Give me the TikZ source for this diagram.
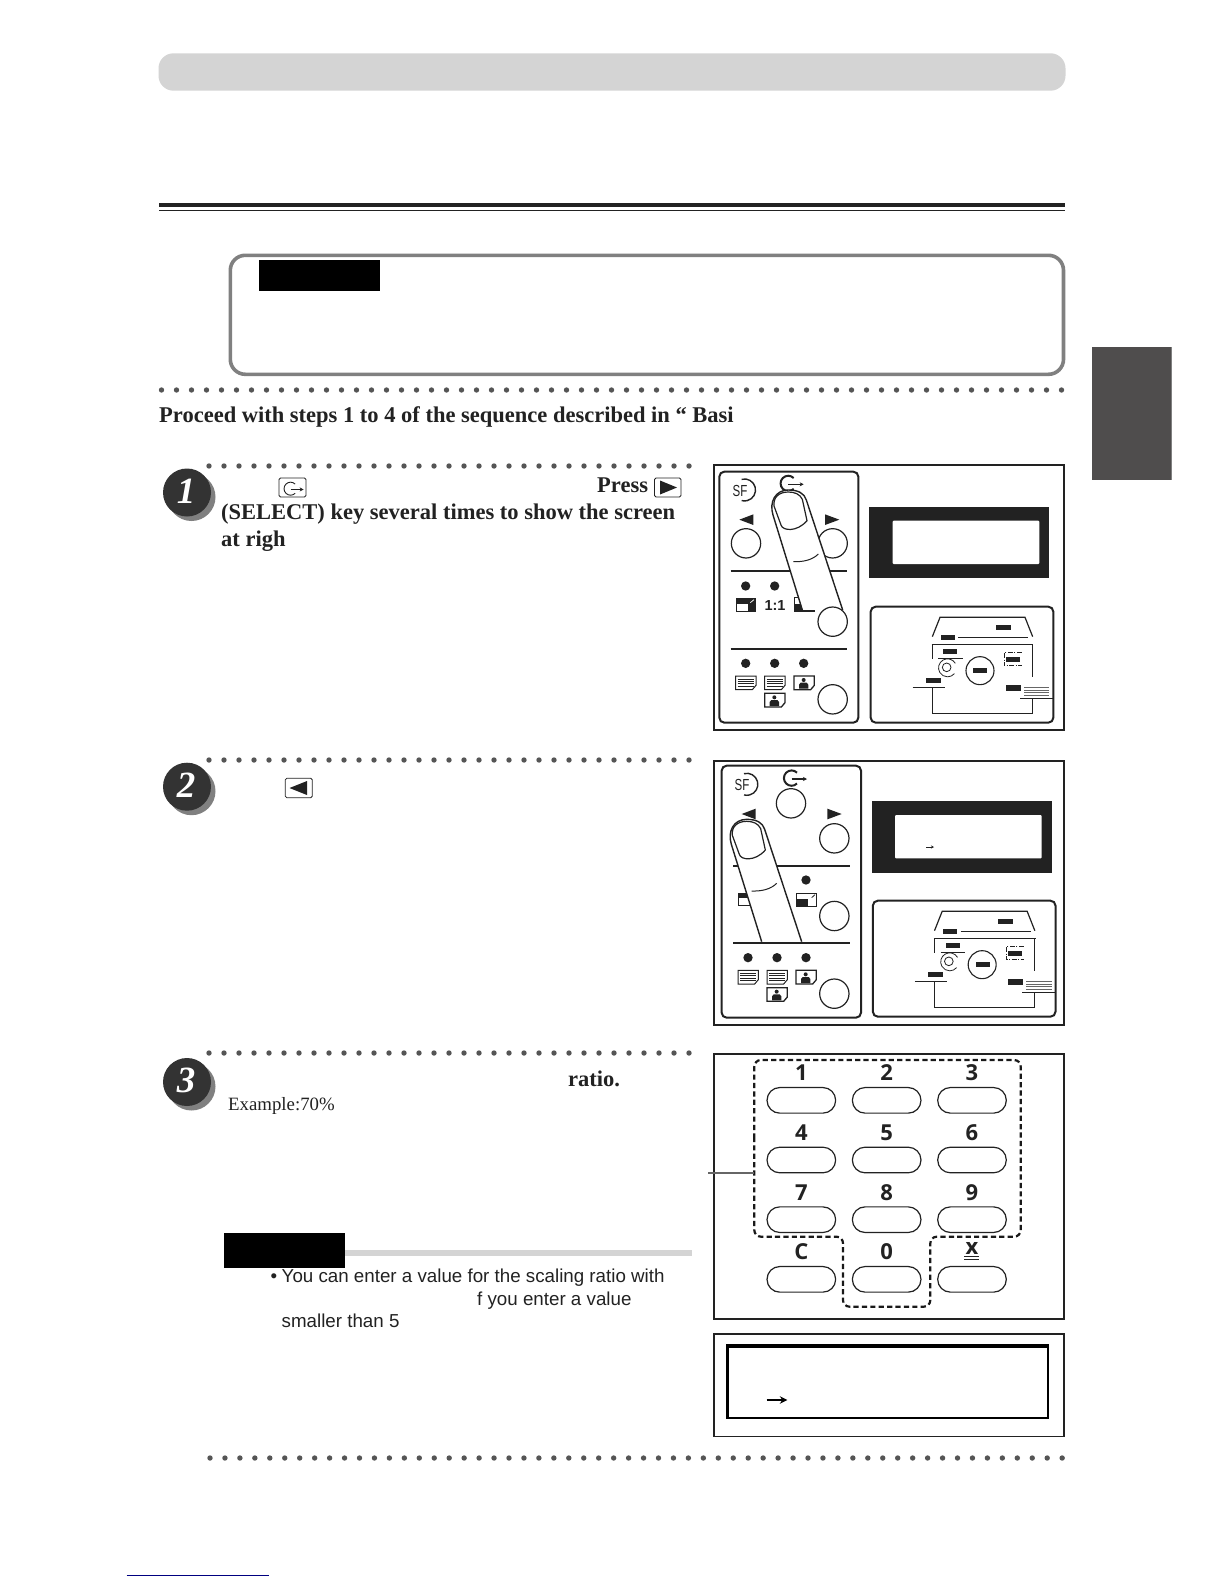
\documentclass[tikz,border=0pt]{standalone}
\usepackage{fontspec}
\setmainfont{Liberation Serif}
\newfontfamily\sansf{Liberation Sans}
\newfontfamily\keyf{Open Sans}
\usetikzlibrary{arrows.meta}
\definecolor{ink}{HTML}{222222}
\definecolor{barcol}{HTML}{D4D4D4}
\definecolor{dotcol}{HTML}{555555}
\definecolor{tabcol}{HTML}{4F4D4D}
\definecolor{boxcol}{HTML}{808080}
\definecolor{badgecol}{HTML}{333333}
\tikzset{
  txt/.style={inner sep=0pt,anchor=base west,text=ink},
  bodybold/.style={txt,font=\fontsize{22.5}{26}\selectfont\bfseries},
  note/.style={txt,font=\fontsize{18.75}{22}\selectfont\sansf},
  badgenum/.style={inner sep=0pt,text=white,font=\fontsize{37}{40}\selectfont\bfseries\itshape},
  keybtn/.style={draw=ink,line width=1.2pt,fill=white,minimum width=68.6pt,minimum height=25.6pt,rounded corners=12.7pt,inner sep=0pt},
  keydigit/.style={inner sep=0pt,anchor=base,text=ink,font=\fontsize{22}{24}\selectfont\keyf\bfseries},
  frameline/.style={draw=ink,line width=1.5pt},
  panelline/.style={draw=ink,line width=2pt,rounded corners=5pt},
  pbtn/.style={draw=ink,line width=1.2pt,fill=white},
  keybox/.style={draw=ink,line width=.8pt,rounded corners=1.5pt,fill=white},
  sflabel/.style={inner sep=0pt,text=ink,xscale=.72,font=\fontsize{16}{16}\selectfont\sansf},
}
\newcommand{\reticon}[5]{% x, y, scale, arc width, arrow width
  \begin{scope}[shift={(#1,#2)},scale=#3]
    \draw[ink,line width=#4] (16,-16) arc[start angle=-45,end angle=-315,radius=23];
    \draw[ink,line width=#5,-{Stealth[length=4pt,width=4pt]}] (0,3) -- (46,3);
  \end{scope}}
\newcommand{\docicon}[2]{%
  \begin{scope}[shift={(#1,#2)}]
    \draw[ink,line width=1pt,fill=white] (0,0) -- (61,0) -- (61,28) -- (50,41) -- (0,41) -- cycle;
    \foreach \yy in {9,16,23,30}{\draw[ink,line width=.5pt] (6,\yy) -- (55,\yy);}
  \end{scope}}
\newcommand{\personicon}[2]{%
  \begin{scope}[shift={(#1,#2)}]
    \draw[ink,line width=1.3pt,fill=white] (0,0) -- (61,0) -- (61,28) -- (50,41) -- (0,41) -- cycle;
    \fill[ink] (29,12) circle[radius=6];
    \fill[ink] (15,38) -- (15,26) -- (20,20) -- (38,20) -- (43,26) -- (43,38) -- cycle;
  \end{scope}}
\newcommand{\enlicon}[2]{%
  \begin{scope}[shift={(#1,#2)}]
    \fill[ink] (0,0) rectangle (61,40);
    \fill[white] (4,16) rectangle (38,37);
    \draw[white,line width=.7pt] (44,13) -- (55,4);
  \end{scope}}
\newcommand{\redicon}[2]{%
  \begin{scope}[shift={(#1,#2)}]
    \draw[ink,line width=1pt,fill=white] (0,0) rectangle (61,40);
    \fill[ink] (0,18) rectangle (36,40);
    \draw[ink,line width=.8pt] (56,4) -- (46,13);
  \end{scope}}
\newcommand{\fingerdraw}[5]{% tipx tipy leftbottomx rightbottomx length
  \begin{scope}[shift={(#1,#2)}]
    \fill[white] (#3,#5) -- (-46,75) .. controls (-58,36) and (-39,0) .. (0,0) .. controls (30,0) and (48,10) .. (54,30) -- (#4,#5) -- cycle;
    \draw[ink,line width=1.4pt] (#3,#5) -- (-46,75) .. controls (-58,36) and (-39,0) .. (0,0) .. controls (30,0) and (48,10) .. (54,30) -- (#4,#5);
    \draw[ink,line width=1.2pt] (0,6) .. controls (-28,6) and (-46,22) .. (-43,48) -- (-22,105) .. controls (-18,122) and (25,128) .. (56,92) -- (42,28) .. controls (35,12) and (18,6) .. (0,6);
    \draw[ink,line width=1pt] (15,215) .. controls (45,216) and (72,210) .. (90,192);
  \end{scope}}
\newcommand{\statusbox}{%
  \draw[panelline] (512,455) rectangle (1060,803);
  \draw[ink,line width=1.2pt] (697,545) -- (720,487) -- (975,487) -- (998,545);
  \fill[ink] (888,510) rectangle (932,525);
  \fill[ink] (722,540) rectangle (765,555);
  \draw[ink,line width=1pt] (775,547) -- (985,547);
  \draw[ink,line width=1.2pt] (695,568) -- (1000,568);
  \draw[ink,line width=1.2pt] (697,568) -- (697,612);
  \draw[ink,line width=1.2pt] (998,568) -- (998,665);
  \draw[ink,line width=1.2pt] (698,698) -- (698,775) -- (997,775) -- (997,730);
  \draw[ink,line width=1.2pt] (638,698) -- (735,698);
  \fill[ink] (678,668) rectangle (722,685);
  \fill[ink] (730,582) rectangle (772,598);
  \draw[ink,line width=.9pt] (715,609) -- (788,609);
  \draw[ink,line width=.8pt] (766,625) arc[start angle=-30,end angle=-320,radius=27];
  \draw[ink,line width=.8pt] (740,637) circle[radius=13];
  \draw[ink,line width=1.1pt] (840,647) circle[radius=42];
  \fill[ink] (820,640) rectangle (862,655);
  \draw[ink,line width=.7pt,dash pattern=on 5pt off 1.5pt on 1pt off 1.5pt] (965,593) -- (912,593) -- (912,632) -- (965,632);
  \fill[ink] (918,605) rectangle (960,620);
  \fill[ink] (918,690) rectangle (962,707);
  \foreach \yy in {697,705,712,720}{\draw[black!60,line width=.6pt] (972,\yy) -- (1048,\yy);}
  \draw[ink,line width=1pt] (960,730) -- (1058,730);
}
\begin{document}
\begin{tikzpicture}[x=1pt,y=-1pt]
\useasboundingbox (0,0) rectangle (1224,1584);
\fill[white] (0,0) rectangle (1224,1584);
% header
\fill[barcol,rounded corners=15pt] (158.5,53.3) rectangle (1065.5,90.7);
\fill[ink] (159,203) rectangle (1065,207);
\fill[ink] (159,209.8) rectangle (1065,210.8);
% notice box
\draw[boxcol,line width=3.6pt,rounded corners=15pt] (230.3,255.3) rectangle (1063.5,374.3);
\fill[black] (259,260) rectangle (380,291);
% tab
\fill[tabcol] (1092,346.7) rectangle (1171,480);
\fill[black!50] (1171,346.7) rectangle (1172,480);
% dotted rows
\foreach \i in {0,...,60}{\fill[dotcol] ({161.5+15*\i},390) circle[radius=2.7];}
\foreach \yy in {466,760,1053}{\foreach \i in {0,...,32}{\fill[dotcol] ({209+15*\i},\yy) circle[radius=2.7];}}
\foreach \i in {0,...,57}{\fill[dotcol] ({210+14.95*\i},1458) circle[radius=2.7];}
% intro
\node[bodybold] (intro) at (159,422) {Proceed with steps 1 to 4 of the sequence described in “ Basi};
% badges
\foreach \cy/\lab/\nm in {492.5/1/one,786.7/2/two,1082/3/three}{
  \fill[black!50] (191.5,\cy+4.5) circle[radius=24];
  \fill[badgecol] (187,\cy) circle[radius=24];
  \node[badgenum] (badge\nm) at (186,\cy-1.5) {\lab};
}
% step 1 text
\draw[keybox] (279,478) rectangle (306,497);
\begin{scope}[x=.3333pt,y=-.3333pt]
\reticon{872}{1466}{.85}{.9pt}{.7pt}
\end{scope}
\node[bodybold] (pressw) at (597,492) {Press};
\draw[keybox] (654.5,478) rectangle (681,497);
\fill[ink] (660,480.5) -- (677,487.5) -- (660,494.5) -- cycle;
\node[bodybold] (sel) at (221,519) {(SELECT) key several times to show the screen};
\node[bodybold] (right) at (221,546) {at righ};
% step 2 text
\draw[keybox] (285.3,778.3) rectangle (312.3,797.7);
\fill[ink] (289.5,788) -- (307,781) -- (307,795) -- cycle;
% step 3 text
\node[bodybold] (ratio) at (568,1086) {ratio.};
\node[txt,font=\fontsize{18.8}{22}\selectfont] (example) at (228,1110) {Example:70\%};
\fill[barcol] (345,1249.5) rectangle (692,1256);
\fill[black] (224,1233) rectangle (345,1267.5);
\node[note] (bullet) at (270.5,1282) {•};
\node[note] (n1) at (281.5,1282) {You can enter a value for the scaling ratio with};
\node[note] (n2) at (477,1305) {f you enter a value};
\node[note] (n3) at (281.5,1327) {smaller than 5};
% link rule
\draw[blue!50!black,line width=1pt] (126.7,1575.3) -- (269,1575.3);

% ---------- panel 1
\begin{scope}[shift={(700,455)},x=.33333pt,y=-.33333pt]
  \draw[frameline] (42,30) rectangle (1092,825);
  \draw[panelline] (58,50) rectangle (475,803);
  \node[sflabel] (sf1) at (120,108) {SF};
  \draw[ink,line width=1.4pt] (125,73) arc[start angle=-105,end angle=105,radius=33];
  \reticon{265}{85}{1}{2pt}{1.4pt}
  \fill[ink] (118,194) -- (160,178) -- (160,210) -- cycle;
  \fill[ink] (418,194) -- (375,178) -- (375,210) -- cycle;
  \draw[pbtn] (138,265) circle[radius=44];
  \draw[pbtn] (398,265) circle[radius=44];
  \draw[ink,line width=2pt] (92,349) -- (442,349);
  \draw[ink,line width=2pt] (92,582) -- (442,582);
  \foreach \xx in {137,224}{\fill[ink] (\xx,393) circle[radius=14];}
  \foreach \xx in {137,224,311}{\fill[ink] (\xx,625) circle[radius=14];}
  \enlicon{107}{430}
  \node[inner sep=0pt,text=ink,font=\fontsize{14.5}{15}\selectfont\sansf\bfseries] (oneone) at (225,453) {1:1};
  \redicon{282}{428}
  \docicon{107}{663}
  \docicon{194}{663}
  \personicon{282}{663}
  \personicon{194}{715}
  \fingerdraw{265}{105}{42}{163}{360}
  \draw[ink,line width=1pt] (305,467) -- (345,467);
  \draw[pbtn] (398,500) circle[radius=44];
  \draw[pbtn] (398,733) circle[radius=44];
  \fill[ink] (508,155) rectangle (1048,370);
  \fill[white,rounded corners=1pt] (578,197) rectangle (1018,327);
  \statusbox
\end{scope}

% ---------- panel 2
\begin{scope}[shift={(700,750)},x=.33333pt,y=-.33333pt]
  \draw[frameline] (42,33) rectangle (1092,825);
  \fill[ink] (42,822) rectangle (1092,828);
  \draw[panelline] (65,47) rectangle (483,803);
  \node[sflabel] (sf2) at (126,106) {SF};
  \draw[ink,line width=1.4pt] (132,71) arc[start angle=-105,end angle=105,radius=33];
  \reticon{275}{84}{1}{2pt}{1.4pt}
  \draw[pbtn] (273,160) circle[radius=44];
  \fill[ink] (125,192) -- (167,176) -- (167,208) -- cycle;
  \fill[ink] (425,192) -- (382,176) -- (382,208) -- cycle;
  \draw[pbtn] (403,265) circle[radius=44];
  \draw[ink,line width=2pt] (99,347) -- (449,347);
  \draw[ink,line width=2pt] (99,580) -- (449,580);
  \fill[ink] (318,390) circle[radius=14];
  \foreach \xx in {144,231,318}{\fill[ink] (\xx,623) circle[radius=14];}
  \enlicon{113}{428}
  \redicon{289}{430}
  \docicon{114}{661}
  \docicon{201}{661}
  \personicon{288}{661}
  \personicon{201}{713}
  \fingerdraw{140}{208}{45}{165}{367}
  \draw[ink,line width=2pt] (99,580) -- (449,580);
  \draw[pbtn] (403,498) circle[radius=44];
  \draw[pbtn] (403,731) circle[radius=44];
  \fill[ink] (515,153) rectangle (1055,368);
  \fill[white,rounded corners=1pt] (585,195) rectangle (1025,325);
  \draw[ink,line width=.7pt,-{Stealth[length=3pt,width=3pt]}] (678,291) -- (702,291);
  \begin{scope}[shift={(6.5,-3)}]
    \statusbox
  \end{scope}
\end{scope}

% ---------- keypad
\begin{scope}[shift={(700,1045)},x=.33333pt,y=-.33333pt]
  \draw[frameline] (42,27) rectangle (1092,822);
  \foreach \lab/\cx/\cy/\ly in {1/304/166/107,2/560/166/107,3/816/166/107,4/304/345/286,5/560/345/286,6/816/345/286,7/304/524/465,8/560/524/465,9/816/524/465,C/304/703/644,0/560/703/644}{
    \node[keybtn] (btn\lab) at (\cx,\cy) {};
    \node[keydigit] (lab\lab) at (\cx,\ly) {\lab};
  }
  \node[keybtn] (btnX) at (816,703) {};
  \node[keydigit,font=\fontsize{22}{22}\selectfont\keyf\bfseries] (labX) at (816,628) {x};
  \draw[ink,line width=.9pt] (792,634) -- (838,634);
  \draw[ink,line width=.9pt] (792,643) -- (838,643);
  \draw[black!90,line width=2.2pt,dash pattern=on 5.2pt off 3.2pt,rounded corners=6.5pt]
    (163,300) -- (163,45) -- (962,45) -- (962,575) -- (691,575) -- (691,785) -- (429,785) -- (429,575) -- (163,575) -- cycle;
  \coordinate (stubA) at (25,385);
  \coordinate (stubB) at (162,385);
  \draw[black!60,line width=1.9pt] (stubA) -- (stubB);
  % display
  \draw[frameline] (42,867) rectangle (1092,1175);
  \fill[black] (79,898) rectangle (1046,1122);
  \fill[white] (87,908) rectangle (1041,1117);
  \coordinate (arrA) at (200,1065);
  \coordinate (arrB) at (262,1065);
  \draw[black,line width=1.2pt,-{Stealth[length=7.5pt,width=7.5pt]}] (arrA) -- (arrB);
\end{scope}
\end{tikzpicture}
\end{document}
